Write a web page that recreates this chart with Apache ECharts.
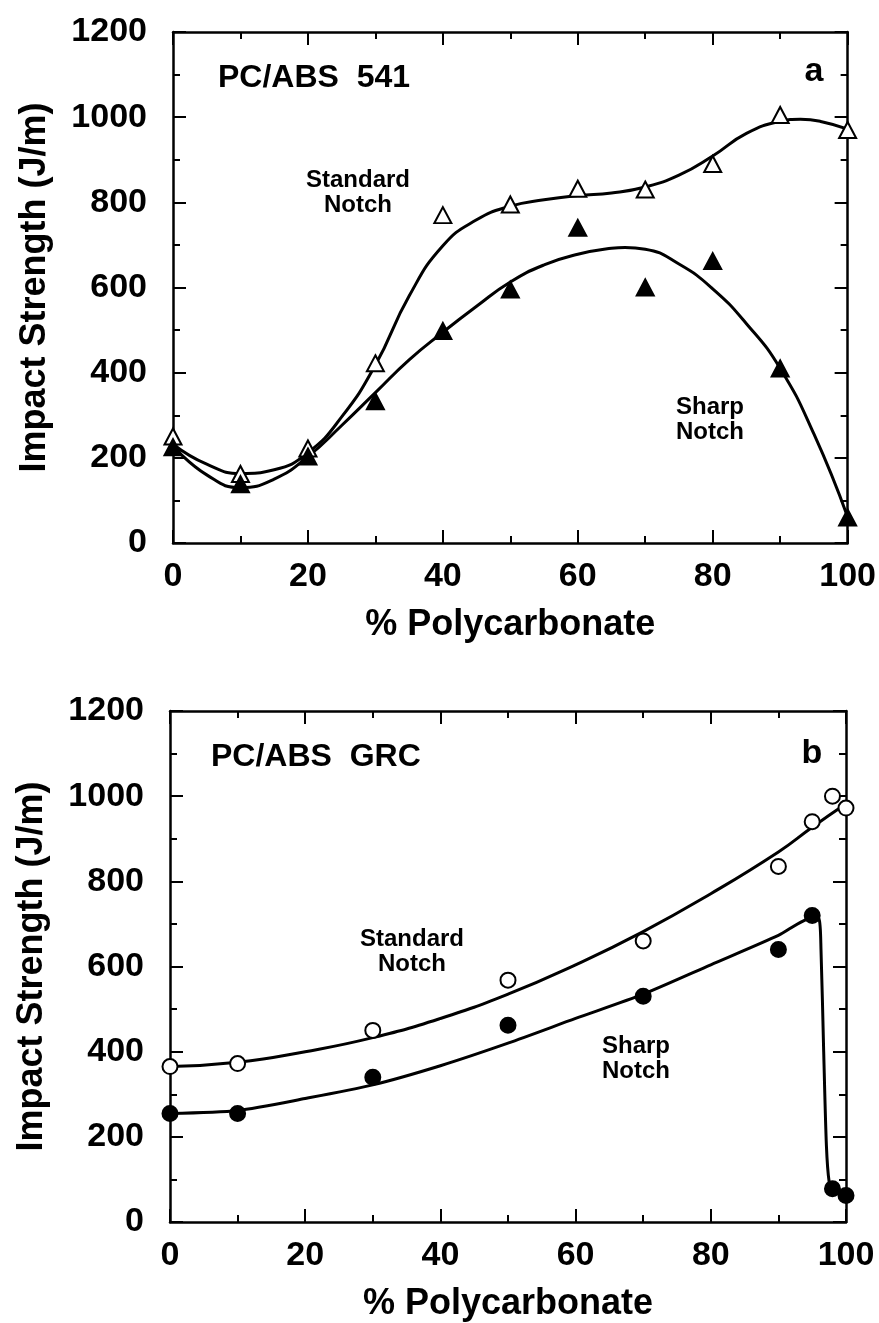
<!DOCTYPE html>
<html>
<head>
<meta charset="utf-8">
<script src="https://cdn.jsdelivr.net/npm/echarts@6/dist/echarts.min.js"></script>
<style>
html,body{margin:0;padding:0;background:#fff;}
#chart{width:879px;height:1323px;}
</style>
</head>
<body>
<div id="chart"></div>
<script>
// ---------- Data ----------
const xTicks = [0, 20, 40, 60, 80, 100];
const yTicks = [0, 200, 400, 600, 800, 1000, 1200];

// Panel a: PC/ABS 541
const a_x        = [0, 10, 20, 30, 40, 50, 60, 70, 80, 90, 100];
const a_standard = [250, 162, 222, 422, 770, 795, 832, 830, 890, 1005, 970];
const a_sharp    = [225, 138, 203, 333, 498, 595, 740, 600, 662, 410, 60];

const a_stdFit_x   = [0, 5, 10, 15, 20, 25, 30, 35, 40, 45, 50, 55, 60, 65, 70, 75, 80, 85, 90, 93, 96, 100];
const a_stdFit_y   = [232, 185, 163, 172, 212, 296, 418, 580, 698, 759, 791, 806, 816, 822, 836, 864, 909, 962, 990, 995, 990, 972];
const a_sharpFit_x = [0, 5, 10, 15, 20, 25, 30, 35, 40, 45, 50, 55, 60, 65, 67, 70, 75, 80, 85, 90, 95, 100];
const a_sharpFit_y = [228, 160, 130, 150, 203, 276, 353, 430, 495, 556, 613, 653, 678, 692, 694, 690, 655, 597, 515, 410, 256, 61];

// Panel b: PC/ABS GRC
const b_x        = [0, 10, 30, 50, 70, 90, 95, 98, 100];
const b_standard = [365, 372, 450, 568, 660, 835, 940, 1000, 972];
const b_sharp    = [255, 255, 340, 462, 530, 640, 720, 78, 62];

const b_stdFit_x   = [0, 10, 20, 30, 40, 50, 60, 70, 80, 90, 95, 100];
const b_stdFit_y   = [365, 375, 400, 433, 478, 535, 604, 682, 771, 869, 927, 982];
const b_sharpFit_x = [0, 10, 20, 30, 40, 50, 60, 70, 80, 90, 95, 96, 96.3, 96.7, 97.1, 97.5, 98, 100];
const b_sharpFit_y = [255, 262, 290, 322, 367, 420, 478, 535, 604, 673, 714, 712, 640, 400, 180, 95, 80, 62];

const xTitle = '% Polycarbonate';
const yTitle = 'Impact Strength (J/m)';

// ---------- Helpers ----------
const pairs = (xs, ys) => xs.map((x, i) => [x, ys[i]]);
const FONT = 'Liberation Sans, Arial, Helvetica, sans-serif';
const BLK = '#000';

function xAxisDef(grid, pos, labels) {
  return {
    type: 'value', gridIndex: grid, position: pos,
    min: xTicks[0], max: xTicks[xTicks.length - 1], interval: xTicks[1] - xTicks[0],
    name: labels ? xTitle : '', nameLocation: 'middle', nameGap: 64,
    nameTextStyle: { fontFamily: FONT, fontWeight: 'bold', fontSize: 36, color: BLK },
    axisLine: { show: true, onZero: false, lineStyle: { color: BLK, width: 2.5 } },
    axisTick: { show: true, inside: true, length: 13, lineStyle: { color: BLK, width: 2 } },
    minorTick: { show: true, splitNumber: 2, length: 7, lineStyle: { color: BLK, width: 2 } },
    axisLabel: { show: labels, margin: 17, fontFamily: FONT, fontWeight: 'bold', fontSize: 34, color: BLK,
                 formatter: v => String(v) },
    splitLine: { show: false }, minorSplitLine: { show: false }
  };
}
function yAxisDef(grid, pos, labels) {
  return {
    type: 'value', gridIndex: grid, position: pos,
    min: yTicks[0], max: yTicks[yTicks.length - 1], interval: yTicks[1] - yTicks[0],
    name: labels ? yTitle : '', nameLocation: 'middle', nameGap: 120,
    nameTextStyle: { fontFamily: FONT, fontWeight: 'bold', fontSize: 36, color: BLK },
    axisLine: { show: true, onZero: false, lineStyle: { color: BLK, width: 2.5 } },
    axisTick: { show: true, inside: true, length: 13, lineStyle: { color: BLK, width: 2 } },
    minorTick: { show: true, splitNumber: 2, length: 7, lineStyle: { color: BLK, width: 2 } },
    axisLabel: { show: labels, margin: 26, fontFamily: FONT, fontWeight: 'bold', fontSize: 34, color: BLK,
                 formatter: v => String(v) },
    splitLine: { show: false }, minorSplitLine: { show: false }
  };
}
function fitLine(xi, yi, xs, ys, smooth) {
  return {
    type: 'line', xAxisIndex: xi, yAxisIndex: yi, data: pairs(xs, ys),
    smooth: smooth, showSymbol: false, silent: true, z: 2,
    lineStyle: { color: BLK, width: 3 }
  };
}
function points(xi, yi, xs, ys, symbol, size, filled) {
  return {
    type: 'scatter', xAxisIndex: xi, yAxisIndex: yi, data: pairs(xs, ys),
    symbol: symbol, symbolSize: size, z: 5, silent: true,
    itemStyle: { color: filled ? BLK : '#fff', borderColor: BLK, borderWidth: 2, opacity: 1 }
  };
}
function label(x, y, text, size, align) {
  return {
    type: 'text', x: x, y: y, z: 10,
    style: {
      text: text, fill: BLK, align: align || 'center', verticalAlign: 'middle',
      font: 'bold ' + size + 'px ' + FONT, lineHeight: Math.round(size * 1.05)
    }
  };
}

const chart = echarts.init(document.getElementById('chart'), null, { renderer: 'canvas' });
chart.setOption({
  backgroundColor: '#fff',
  animation: false,
  grid: [
    { left: 173, top: 32, width: 677, height: 511 },
    { left: 170, top: 711, width: 676, height: 511 }
  ],
  xAxis: [
    xAxisDef(0, 'bottom', true), xAxisDef(0, 'top', false),
    xAxisDef(1, 'bottom', true), xAxisDef(1, 'top', false)
  ],
  yAxis: [
    yAxisDef(0, 'left', true), yAxisDef(0, 'right', false),
    yAxisDef(1, 'left', true), yAxisDef(1, 'right', false)
  ],
  series: [
    fitLine(0, 0, a_stdFit_x, a_stdFit_y, 0.5),
    fitLine(0, 0, a_sharpFit_x, a_sharpFit_y, 0.5),
    points(0, 0, a_x, a_standard, 'triangle', [17, 16], false),
    points(0, 0, a_x, a_sharp, 'triangle', [17, 16], true),
    fitLine(2, 2, b_stdFit_x, b_stdFit_y, 0.5),
    fitLine(2, 2, b_sharpFit_x, b_sharpFit_y, 0.25),
    points(2, 2, b_x, b_standard, 'circle', 15, false),
    points(2, 2, b_x, b_sharp, 'circle', 15, true)
  ],
  graphic: [
    label(218, 78, 'PC/ABS  541', 32, 'left'),
    label(814, 72, 'a', 34),
    label(358, 193, 'Standard\nNotch', 24),
    label(710, 420, 'Sharp\nNotch', 24),
    label(211, 757, 'PC/ABS  GRC', 32, 'left'),
    label(812, 754, 'b', 34),
    label(412, 952, 'Standard\nNotch', 24),
    label(636, 1059, 'Sharp\nNotch', 24)
  ]
});
</script>
</body>
</html>
